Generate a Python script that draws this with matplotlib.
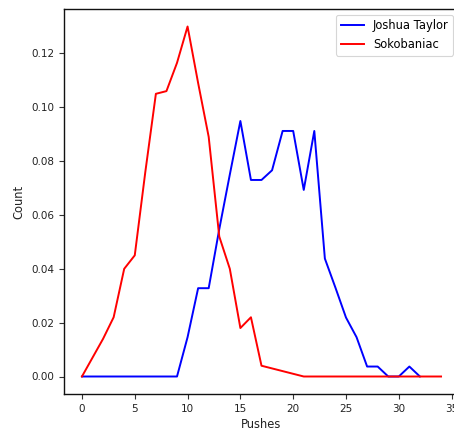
import matplotlib
matplotlib.use("Agg")
import matplotlib.pyplot as plt

# Push-count distributions for two solvers
joshua_x = [0, 1, 2, 3, 4, 5, 6, 7, 8, 9, 10, 11, 12, 13, 14, 15, 16, 17,
            18, 19, 20, 21, 22, 23, 24, 25, 26, 27, 28, 29, 30, 31, 32]
joshua_y = [0, 0, 0, 0, 0, 0, 0, 0, 0, 0, 0.0146, 0.0328, 0.0328, 0.0547,
            0.0750, 0.0949, 0.0730, 0.0730, 0.0766, 0.0912, 0.0912, 0.0693,
            0.0912, 0.0438, 0.0330, 0.0219, 0.0146, 0.0037, 0.0037, 0, 0,
            0.0037, 0]

soko_x = [0, 2, 3, 4, 5, 6, 7, 8, 9, 10, 11, 12, 13, 14, 15, 16, 17, 21,
          22, 23, 24, 25, 26, 27, 28, 29, 30, 31, 32, 33, 34]
soko_y = [0, 0.0140, 0.0220, 0.0400, 0.0450, 0.0760, 0.1050, 0.1060,
          0.1165, 0.1300, 0.1090, 0.0890, 0.0520, 0.0400, 0.0180, 0.0220,
          0.0040, 0, 0, 0, 0, 0, 0, 0, 0, 0, 0, 0, 0, 0, 0]

x_ticks = [0, 5, 10, 15, 20, 25, 30, 35]
y_ticks = [0.00, 0.02, 0.04, 0.06, 0.08, 0.10, 0.12]

plt.rcParams['font.family'] = ['DejaVu Sans']
fig = plt.figure(figsize=(4.54, 4.30), dpi=100)
ax = fig.add_axes([64 / 454, 1 - 394 / 430, (459 - 64) / 454, (394 - 9) / 430])

ax.plot(joshua_x, joshua_y, color='blue', lw=1.4, label='Joshua Taylor')
ax.plot(soko_x, soko_y, color='red', lw=1.4, label='Sokobaniac')

ax.set_xlim(-1.7, 35.7)
ax.set_ylim(-0.0065, 0.1365)
ax.set_xticks(x_ticks)
ax.set_yticks(y_ticks)
ax.set_yticklabels([f"{v:.2f}" for v in y_ticks])
ax.tick_params(labelsize=7.5, length=3.5, width=0.8, color='#333333',
               labelcolor='#222222')
for s in ax.spines.values():
    s.set_linewidth(1.0)
    s.set_color('#111111')

ax.set_xlabel('Pushes', fontsize=8.3, color='#222222', labelpad=3)
ax.set_ylabel('Count', fontsize=8.3, color='#222222', labelpad=4)

leg = ax.legend(loc='upper right', fontsize=8.3, frameon=True,
                handlelength=2.0, borderpad=0.4, labelspacing=0.5)
leg.get_frame().set_edgecolor('#cccccc')
leg.get_frame().set_linewidth(0.8)

fig.savefig('out.png', dpi=100)
